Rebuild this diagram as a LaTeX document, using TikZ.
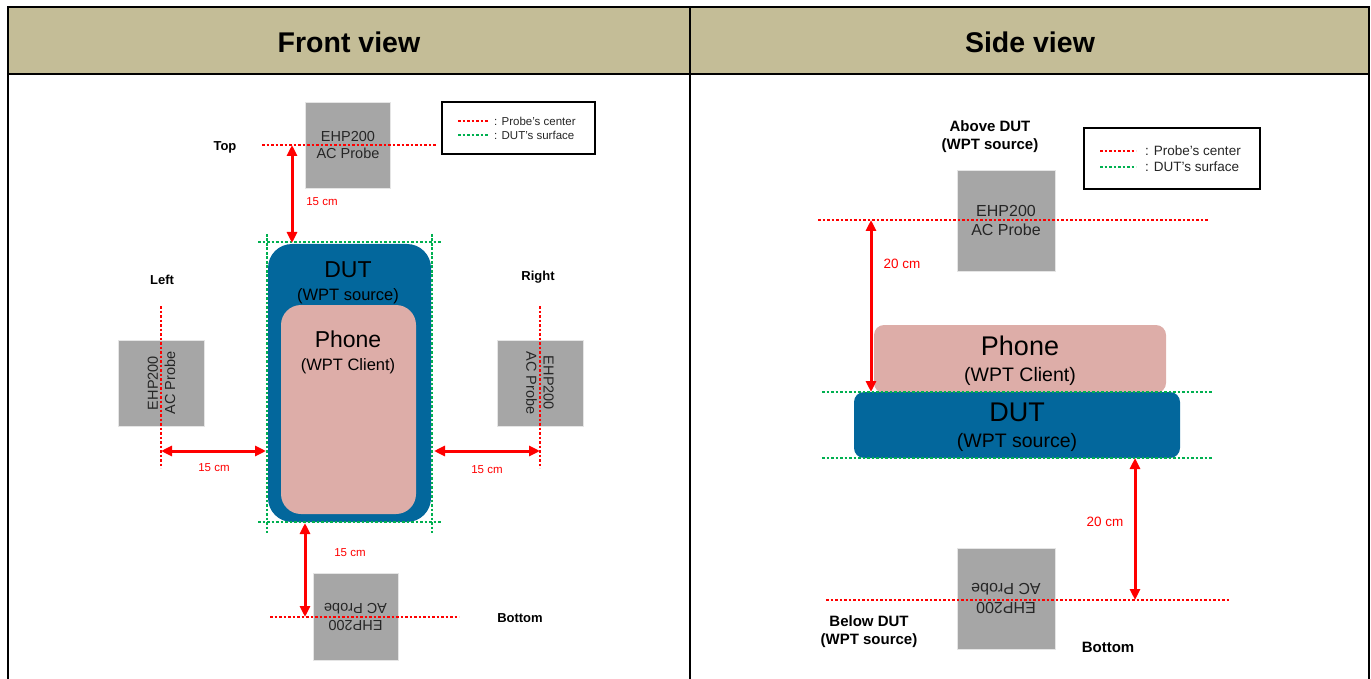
\documentclass[tikz,border=0pt]{standalone}
\usepackage{fontspec}
\setmainfont{Liberation Sans}
\usetikzlibrary{arrows.meta}
\definecolor{headtan}{HTML}{C4BD97}
\definecolor{dutblue}{HTML}{03679C}
\definecolor{phonepink}{HTML}{DDADA8}
\definecolor{probegray}{HTML}{A6A6A6}
\definecolor{dotgreen}{HTML}{00B050}
\newcommand{\fs}[1]{\fontsize{#1}{1.2\dimexpr #1pt\relax}\selectfont}
\tikzset{
  tblline/.style={black, line width=2.5pt},
  redline/.style={red, line width=2.8pt, dash pattern=on 2.6pt off 1.9pt},
  greenline/.style={dotgreen, line width=2.8pt, dash pattern=on 2.6pt off 1.9pt},
  dimarrow/.style={red, line width=3pt, {Triangle[length=11pt,width=10pt]}-{Triangle[length=11pt,width=10pt]}},
  probebox/.style={fill=probegray, draw=black!10, line width=0.6pt, inner sep=0pt, align=center, text=black!85},
  dimlabel/.style={red, inner sep=0pt},
  sidelabel/.style={font=\bfseries\fs{13}, inner sep=0pt, align=center},
  legbox/.style={draw=black, line width=2.2pt, fill=white},
  legtext/.style={anchor=west, inner sep=0pt, text=black!85},
  boxtext/.style={anchor=base, inner sep=0pt},
}
\begin{document}
\begin{tikzpicture}[x=1pt,y=-1pt]
\useasboundingbox (0,0) rectangle (1371,679);
% header
\fill[headtan] (8,7) rectangle (1369,74);
\node (hfront) at (349,42) {\bfseries\fs{28.5}Front view};
\node (hside) at (1030,42) {\bfseries\fs{28.5}Side view};
\draw[tblline] (8,679) -- (8,7) -- (1369,7) -- (1369,679);
\draw[tblline] (8,74) -- (1369,74);
\draw[tblline] (690,7) -- (690,679);

% ================= FRONT VIEW =================
% legend
\node[legbox, minimum width=153, minimum height=52] (fleg) at (518.5,128) {};
\coordinate (flr1) at (458,121); \coordinate (flr2) at (489,121);
\coordinate (flg1) at (458,135); \coordinate (flg2) at (489,135);
\draw[redline] (flr1) -- (flr2);
\draw[greenline] (flg1) -- (flg2);
\node[legtext, font=\fs{11.5}] (flt1) at (494,121) {: Probe's center};
\node[legtext, font=\fs{11.5}] (flt2) at (494,135) {: DUT's surface};

% DUT and phone
\node[fill=dutblue, rounded corners=24pt, minimum width=163, minimum height=278, inner sep=0pt] (fdut) at (349.5,383) {};
\node[fill=phonepink, rounded corners=20pt, minimum width=135, minimum height=209, inner sep=0pt] (fphone) at (348.5,409.5) {};
\node[boxtext, font=\fs{23}] (fdut1) at (348,277.5) {DUT};
\node[boxtext, font=\fs{16.5}] (fdut2) at (348,300) {(WPT source)};
\node[boxtext, font=\fs{23}] (fph1) at (348,347.5) {Phone};
\node[boxtext, font=\fs{16.5}] (fph2) at (348,370) {(WPT Client)};

% DUT surface (green)
\coordinate (fg1) at (258,242); \coordinate (fg2) at (441,242);
\coordinate (fg3) at (258,522); \coordinate (fg4) at (441,522);
\coordinate (fg5) at (267,234); \coordinate (fg6) at (267,533);
\coordinate (fg7) at (432,234); \coordinate (fg8) at (432,533);
\draw[greenline] (fg1) -- (fg2);
\draw[greenline] (fg3) -- (fg4);
\draw[greenline] (fg5) -- (fg6);
\draw[greenline] (fg7) -- (fg8);

% top probe
\node[probebox, minimum width=85, minimum height=86, font=\fs{14.5}] (ptop) at (348,145) {EHP200\\AC Probe};
\coordinate (ftl1) at (262,145); \coordinate (ftl2) at (437,145);
\draw[redline] (ftl1) -- (ftl2);
\node[sidelabel] (ltop) at (225,147) {Top};
\coordinate (fta) at (292,145); \coordinate (ftb) at (292,243);
\draw[dimarrow] (fta) -- (ftb);
\node[dimlabel, font=\fs{11.5}] (dtop) at (322,202) {15 cm};

% left probe
\node[probebox, minimum width=86, minimum height=86, font=\fs{14.5}, rotate=90] (pleft) at (161.5,383) {EHP200\\AC Probe};
\coordinate (fll1) at (161,306); \coordinate (fll2) at (161,468);
\draw[redline] (fll1) -- (fll2);
\node[sidelabel] (lleft) at (162,280) {Left};
\coordinate (fla) at (161,451); \coordinate (flb) at (266,451);
\draw[dimarrow] (fla) -- (flb);
\node[dimlabel, font=\fs{11.5}] (dleft) at (214,468) {15 cm};

% right probe
\node[probebox, minimum width=86, minimum height=86, font=\fs{14.5}, rotate=-90] (pright) at (540,383) {EHP200\\AC Probe};
\coordinate (frl1) at (540,306); \coordinate (frl2) at (540,468);
\draw[redline] (frl1) -- (frl2);
\node[sidelabel] (lright) at (538,277) {Right};
\coordinate (fra) at (434,451); \coordinate (frb) at (540,451);
\draw[dimarrow] (fra) -- (frb);
\node[dimlabel, font=\fs{11.5}] (dright) at (487,470) {15 cm};

% bottom probe
\node[probebox, minimum width=85, minimum height=87, font=\fs{14.5}, rotate=180] (pbot) at (355.5,617) {EHP200\\AC Probe};
\coordinate (fbl1) at (270,617); \coordinate (fbl2) at (459,617);
\draw[redline] (fbl1) -- (fbl2);
\node[sidelabel] (lbot) at (520,618) {Bottom};
\coordinate (fba) at (305,523); \coordinate (fbb) at (305,617);
\draw[dimarrow] (fba) -- (fbb);
\node[dimlabel, font=\fs{11.5}] (dbot) at (350,553) {15 cm};

% ================= SIDE VIEW =================
\node[legbox, minimum width=176, minimum height=61] (sleg) at (1172,158.5) {};
\coordinate (slr1) at (1100,151); \coordinate (slr2) at (1136,151);
\coordinate (slg1) at (1100,167); \coordinate (slg2) at (1136,167);
\draw[redline] (slr1) -- (slr2);
\draw[greenline] (slg1) -- (slg2);
\node[legtext, font=\fs{13.5}] (slt1) at (1145,151) {: Probe's center};
\node[legtext, font=\fs{13.5}] (slt2) at (1145,167) {: DUT's surface};

\node[sidelabel, font=\bfseries\fs{15}] (labove) at (990,137) {Above DUT\\(WPT source)};
\node[probebox, minimum width=98, minimum height=101, font=\fs{16}] (sptop) at (1006,220.5) {EHP200\\AC Probe};
\coordinate (stl1) at (818,220); \coordinate (stl2) at (1209,220);
\draw[redline] (stl1) -- (stl2);

\node[fill=phonepink, rounded corners=10pt, minimum width=292, minimum height=68, inner sep=0pt] (sphone) at (1020,359) {};
\node[boxtext, font=\fs{27}] (sph1) at (1020,355) {Phone};
\node[boxtext, font=\fs{19.5}] (sph2) at (1020,381) {(WPT Client)};
\node[fill=dutblue, rounded corners=10pt, minimum width=326, minimum height=66, inner sep=0pt] (sdut) at (1017,425) {};
\node[boxtext, font=\fs{27}] (sdut1) at (1017,421) {DUT};
\node[boxtext, font=\fs{19.5}] (sdut2) at (1017,447) {(WPT source)};

\coordinate (sg1) at (822,392); \coordinate (sg2) at (1213,392);
\coordinate (sg3) at (822,458); \coordinate (sg4) at (1213,458);
\draw[greenline] (sg1) -- (sg2);
\draw[greenline] (sg3) -- (sg4);

\coordinate (sta) at (871,220); \coordinate (stb) at (871,392);
\draw[dimarrow] (sta) -- (stb);
\node[dimlabel, font=\fs{13.5}] (dstop) at (902,264) {20 cm};

\node[probebox, minimum width=98, minimum height=101, font=\fs{16}, rotate=180] (spbot) at (1006,598.5) {EHP200\\AC Probe};
\coordinate (sbl1) at (826,600); \coordinate (sbl2) at (1229,600);
\draw[redline] (sbl1) -- (sbl2);
\coordinate (sba) at (1135,458); \coordinate (sbb) at (1135,600);
\draw[dimarrow] (sba) -- (sbb);
\node[dimlabel, font=\fs{13.5}] (dsbot) at (1105,522) {20 cm};

\node[sidelabel, font=\bfseries\fs{15}] (lbelow) at (869,632) {Below DUT\\(WPT source)};
\node[sidelabel, font=\bfseries\fs{15}] (lsbot) at (1108,647) {Bottom};
\end{tikzpicture}
\end{document}
